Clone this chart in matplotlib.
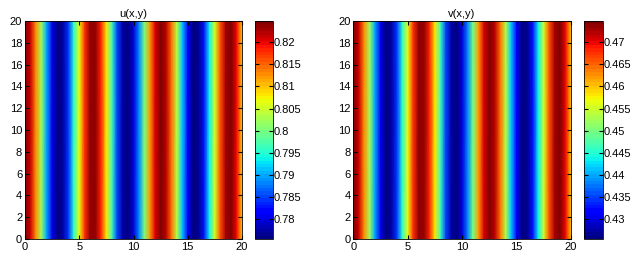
import numpy as np
import matplotlib
matplotlib.use("Agg")
import matplotlib.pyplot as plt

plt.rcParams['font.family'] = ['Liberation Sans', 'DejaVu Sans']

# x sample positions (grid) and y extent
x_pos = [0.0, 0.5, 1.0, 1.5, 2.0, 2.5, 3.0, 3.5, 4.0, 4.5, 5.0, 5.5, 6.0, 6.5, 7.0,
         7.5, 8.0, 8.5, 9.0, 9.5, 10.0, 10.5, 11.0, 11.5, 12.0, 12.5, 13.0, 13.5,
         14.0, 14.5, 15.0, 15.5, 16.0, 16.5, 17.0, 17.5, 18.0, 18.5, 19.0, 19.5, 20.0]
y_pos = [0.0, 20.0]

# profile of u along x (constant in y)
u_profile = [0.8245, 0.8215, 0.8132, 0.8017, 0.7898, 0.7804, 0.7757, 0.7771, 0.7840,
             0.7948, 0.8070, 0.8174, 0.8235, 0.8239, 0.8185, 0.8085, 0.7964, 0.7853,
             0.7777, 0.7756, 0.7794, 0.7883, 0.8001, 0.8118, 0.8207, 0.8245, 0.8222,
             0.8146, 0.8034, 0.7913, 0.7814, 0.7760, 0.7765, 0.7828, 0.7933, 0.8054,
             0.8162, 0.8230, 0.8242, 0.8195, 0.8100]
# profile of v along x
v_profile = [0.4745, 0.4715, 0.4632, 0.4517, 0.4398, 0.4304, 0.4257, 0.4271, 0.4340,
             0.4448, 0.4570, 0.4674, 0.4735, 0.4739, 0.4685, 0.4585, 0.4464, 0.4353,
             0.4277, 0.4256, 0.4294, 0.4383, 0.4501, 0.4618, 0.4707, 0.4745, 0.4722,
             0.4646, 0.4534, 0.4413, 0.4314, 0.4260, 0.4265, 0.4328, 0.4433, 0.4554,
             0.4662, 0.4730, 0.4742, 0.4695, 0.4600]

u_clim = [0.7755, 0.8248]
v_clim = [0.4255, 0.4748]
u_ticks = [0.78, 0.785, 0.79, 0.795, 0.80, 0.805, 0.81, 0.815, 0.82]
u_ticklabels = ['0.78', '0.785', '0.79', '0.795', '0.8', '0.805', '0.81', '0.815', '0.82']
v_ticks = [0.43, 0.435, 0.44, 0.445, 0.45, 0.455, 0.46, 0.465, 0.47]
v_ticklabels = ['0.43', '0.435', '0.44', '0.445', '0.45', '0.455', '0.46', '0.465', '0.47']
x_ticks = [0, 5, 10, 15, 20]
y_ticks = [0, 2, 4, 6, 8, 10, 12, 14, 16, 18, 20]
titles = ['u(x,y)', 'v(x,y)']

fig = plt.figure(figsize=(6.35, 2.63), dpi=100)
cmap = plt.get_cmap('jet', 64)

W, H = 635.0, 263.0
def rect(l, r, t, b):
    return [l / W, 1 - b / H, (r - l) / W, (b - t) / H]

panels = [
    (rect(25, 242, 21, 239), rect(255, 272.7, 21, 239), u_profile, u_clim, u_ticks, u_ticklabels),
    (rect(353.3, 571, 21, 239), rect(584.3, 602.7, 21, 239), v_profile, v_clim, v_ticks, v_ticklabels),
]

X, Y = np.meshgrid(np.array(x_pos), np.array(y_pos))
for i, (ax_r, cb_r, prof, clim, cticks, clabels) in enumerate(panels):
    ax = fig.add_axes(ax_r)
    Z = np.tile(np.array(prof), (len(y_pos), 1))
    m = ax.pcolormesh(X, Y, Z, shading='gouraud', cmap=cmap, vmin=clim[0], vmax=clim[1])
    ax.set_xlim(0, 20)
    ax.set_ylim(0, 20)
    ax.set_xticks(x_ticks)
    ax.set_yticks(y_ticks)
    ax.tick_params(direction='in', length=3, labelsize=8, top=True, right=True, pad=2)
    ax.set_title(titles[i], fontsize=8, pad=3)
    for s in ax.spines.values():
        s.set_linewidth(0.6)
    cax = fig.add_axes(cb_r)
    cb = fig.colorbar(m, cax=cax, ticks=cticks)
    cb.ax.set_yticklabels(clabels)
    cb.ax.tick_params(direction='in', length=3, labelsize=8, left=True, right=True, pad=1)
    cb.outline.set_linewidth(0.6)

fig.savefig('out.png', dpi=100)
